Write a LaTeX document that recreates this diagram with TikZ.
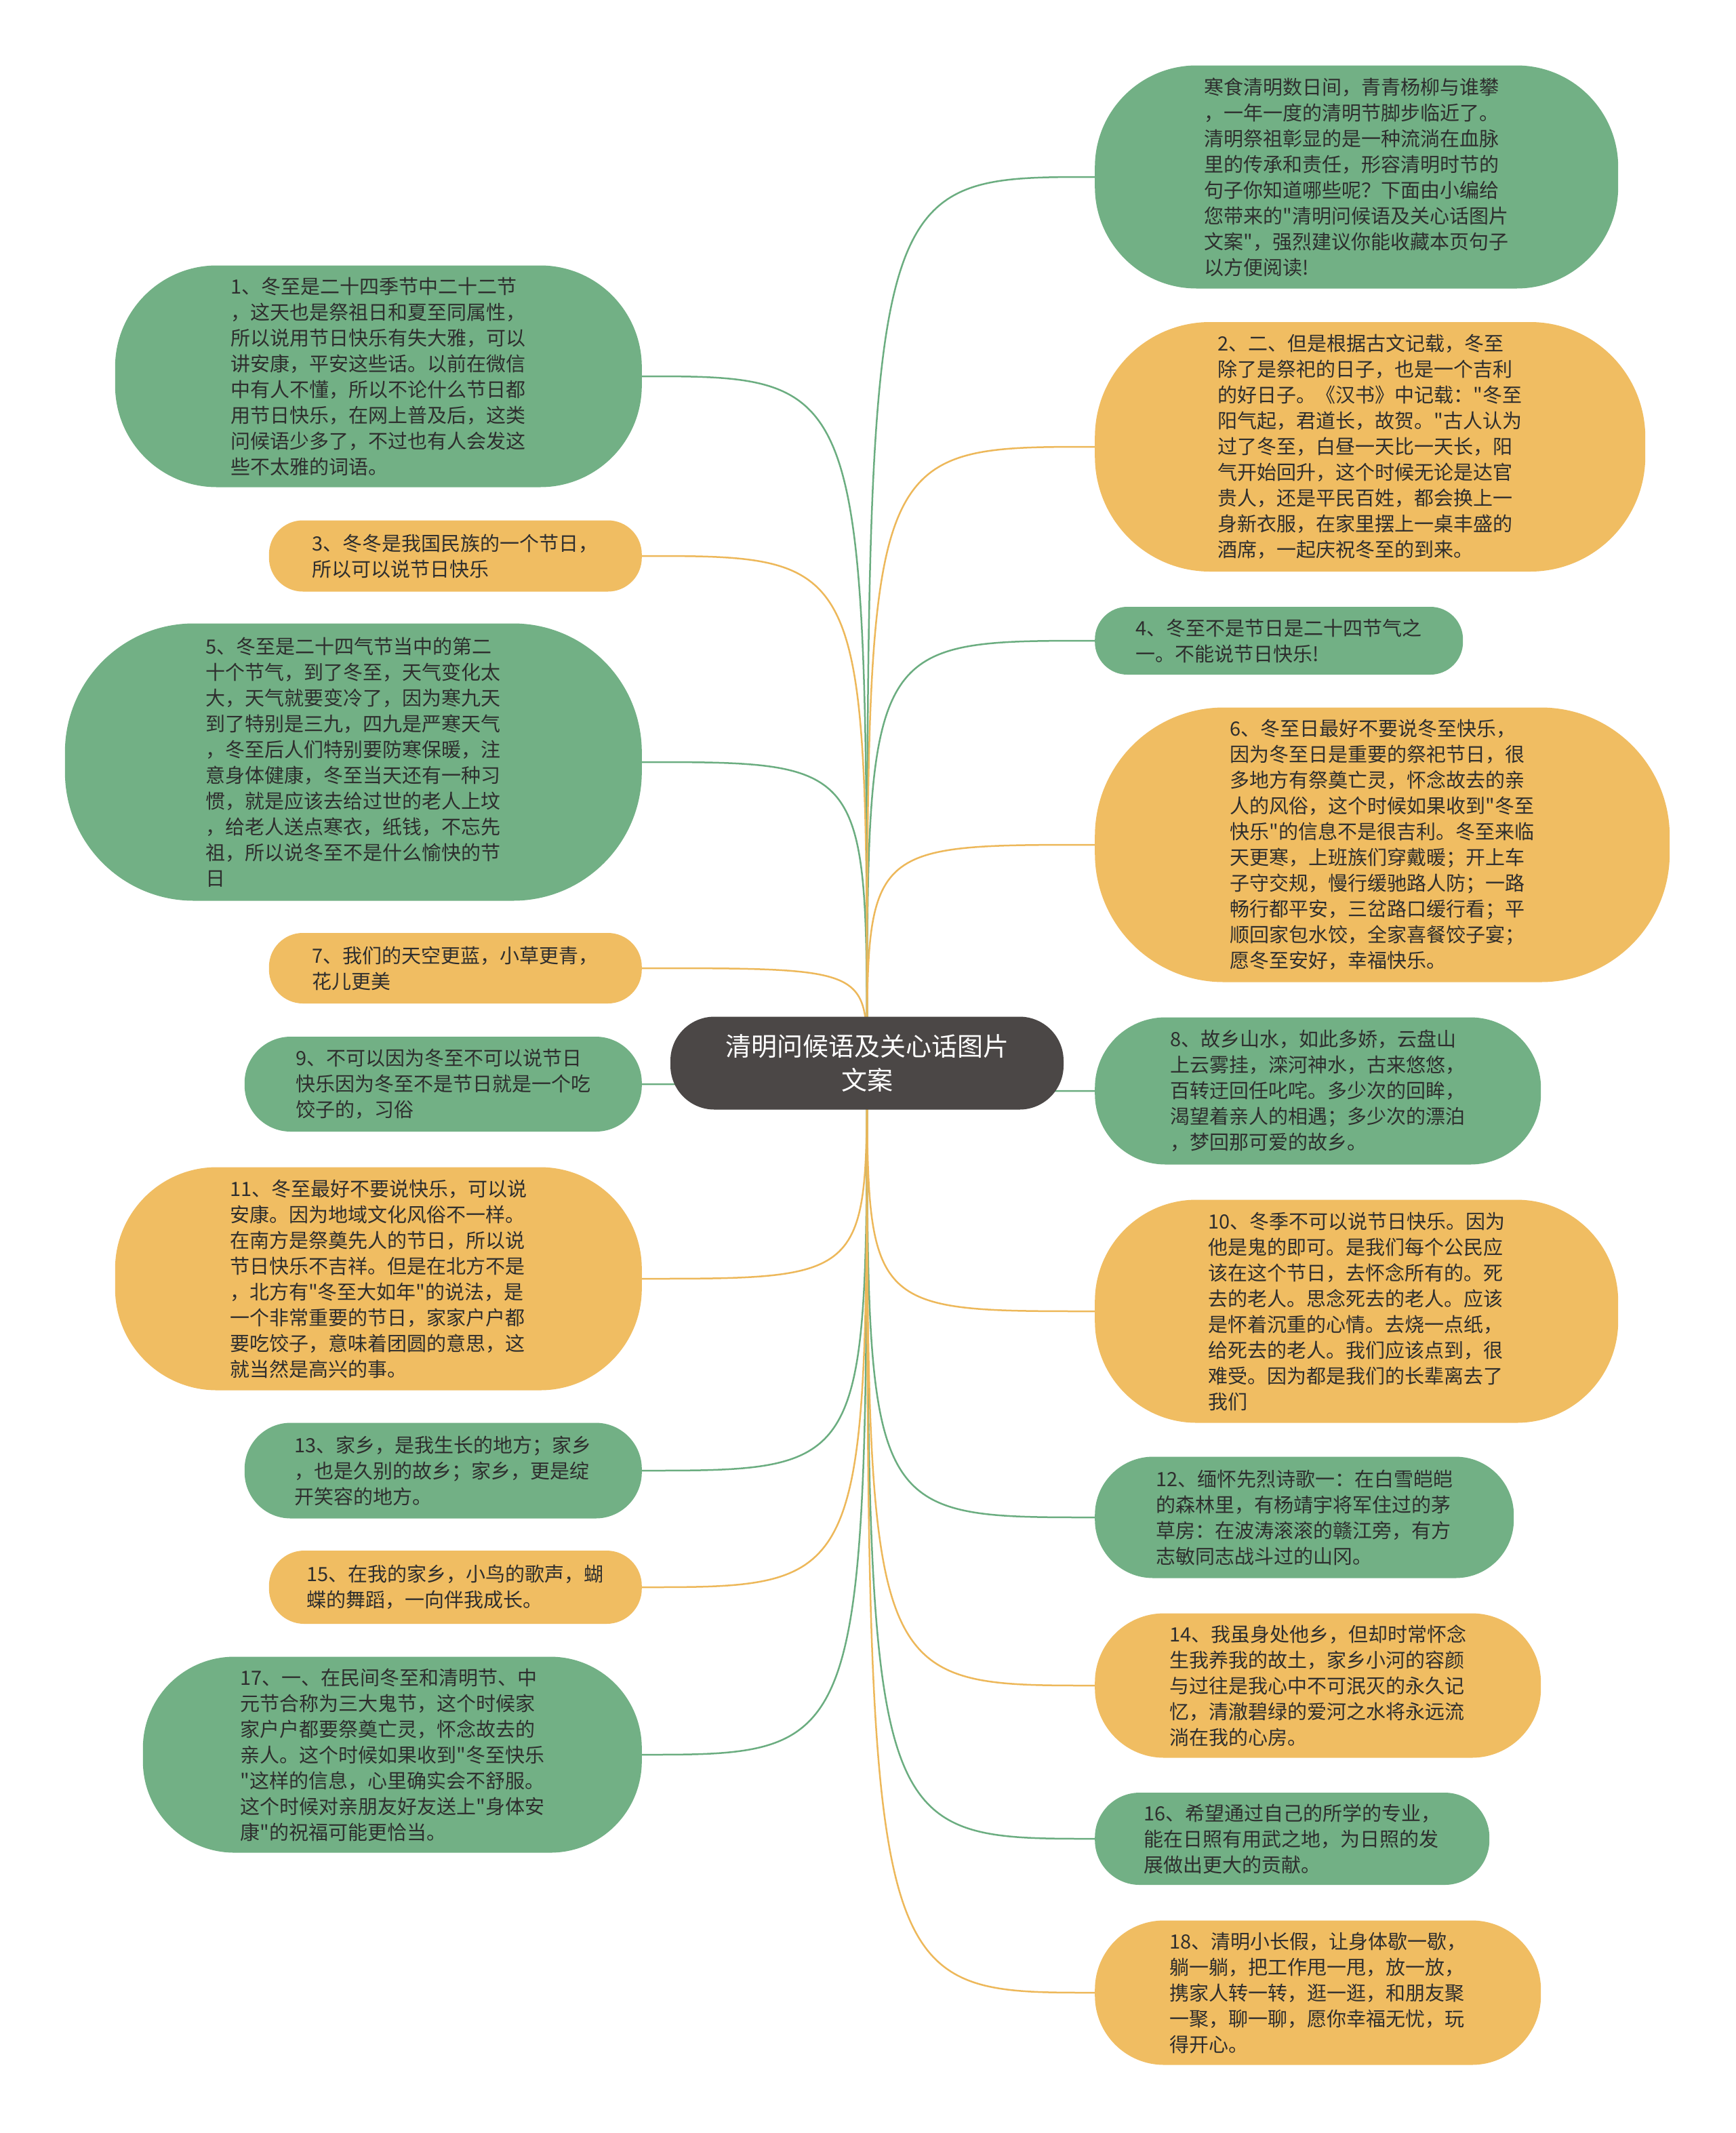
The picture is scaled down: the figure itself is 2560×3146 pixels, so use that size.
\documentclass[tikz,border=0pt]{standalone}
\usepackage{fontspec}
\newfontfamily\cjk{Noto Sans CJK SC}
\usetikzlibrary{backgrounds}
\definecolor{leafgreen}{HTML}{72B085}
\definecolor{leaforange}{HTML}{F0BD62}
\definecolor{rootgray}{HTML}{4B4746}
\definecolor{linegreen}{HTML}{6BAD80}
\definecolor{lineorange}{HTML}{EDB85A}
\definecolor{leaftext}{HTML}{2E2E2E}
\tikzset{
  every node/.append style={font=\cjk},
  leaf/.style={inner sep=0pt, align=left, text=leaftext,
    font=\cjk\fontsize{29pt}{38pt}\selectfont},
  gleaf/.style={leaf, fill=leafgreen},
  oleaf/.style={leaf, fill=leaforange},
  gline/.style={draw=linegreen, line width=2.5pt},
  oline/.style={draw=lineorange, line width=2.5pt}
}

\begin{document}
\begin{tikzpicture}[x=1pt, y=-1pt]
  \useasboundingbox (0,0) rectangle (2560,3146);

  \node [fill=rootgray, text=white, rounded corners=65pt, minimum width=580pt,
    minimum height=137pt, align=center,
    font=\cjk\fontsize{38pt}{50pt}\selectfont] (root) at (1279,1568)
    {清明问候语及关心话图片\\文案};

  % left side
  \node [gleaf, anchor=east, minimum width=777pt, minimum height=327pt, rounded corners=150pt] (n1) at (947,555)
    {1、冬至是二十四季节中二十二节\\，这天也是祭祖日和夏至同属性，\\所以说用节日快乐有失大雅，可以\\讲安康，平安这些话。以前在微信\\中有人不懂，所以不论什么节日都\\用节日快乐，在网上普及后，这类\\问候语少多了，不过也有人会发这\\些不太雅的词语。};
  \node [oleaf, anchor=east, minimum width=550pt, minimum height=105pt, rounded corners=50pt] (n3) at (947,820)
    {3、冬冬是我国民族的一个节日，\\所以可以说节日快乐};
  \node [gleaf, anchor=east, minimum width=851pt, minimum height=409pt, rounded corners=190pt] (n5) at (947,1124)
    {5、冬至是二十四气节当中的第二\\十个节气，到了冬至，天气变化太\\大，天气就要变冷了，因为寒九天\\到了特别是三九，四九是严寒天气\\，冬至后人们特别要防寒保暖，注\\意身体健康，冬至当天还有一种习\\惯，就是应该去给过世的老人上坟\\，给老人送点寒衣，纸钱，不忘先\\祖，所以说冬至不是什么愉快的节\\日};
  \node [oleaf, anchor=east, minimum width=550pt, minimum height=104pt, rounded corners=50pt] (n7) at (947,1428)
    {7、我们的天空更蓝，小草更青，\\花儿更美};
  \node [gleaf, anchor=east, minimum width=586pt, minimum height=140pt, rounded corners=68pt] (n9) at (947,1599)
    {9、不可以因为冬至不可以说节日\\快乐因为冬至不是节日就是一个吃\\饺子的，习俗};
  \node [oleaf, anchor=east, minimum width=777pt, minimum height=329pt, rounded corners=150pt] (n11) at (947,1886)
    {11、冬至最好不要说快乐，可以说\\安康。因为地域文化风俗不一样。\\在南方是祭奠先人的节日，所以说\\节日快乐不吉祥。但是在北方不是\\，北方有"冬至大如年"的说法，是\\一个非常重要的节日，家家户户都\\要吃饺子，意味着团圆的意思，这\\就当然是高兴的事。};
  \node [gleaf, anchor=east, minimum width=586pt, minimum height=141pt, rounded corners=68pt] (n13) at (947,2169)
    {13、家乡，是我生长的地方；家乡\\，也是久别的故乡；家乡，更是绽\\开笑容的地方。};
  \node [oleaf, anchor=east, minimum width=550pt, minimum height=108pt, rounded corners=52pt] (n15) at (947,2341)
    {15、在我的家乡，小鸟的歌声，蝴\\蝶的舞蹈，一向伴我成长。};
  \node [gleaf, anchor=east, minimum width=736pt, minimum height=289pt, rounded corners=135pt] (n17) at (947,2588)
    {17、一、在民间冬至和清明节、中\\元节合称为三大鬼节，这个时候家\\家户户都要祭奠亡灵，怀念故去的\\亲人。这个时候如果收到"冬至快乐\\"这样的信息，心里确实会不舒服。\\这个时候对亲朋友好友送上"身体安\\康"的祝福可能更恰当。};

  % right side
  \node [gleaf, anchor=west, minimum width=772pt, minimum height=329pt, rounded corners=150pt] (n0) at (1615,261)
    {寒食清明数日间，青青杨柳与谁攀\\，一年一度的清明节脚步临近了。\\清明祭祖彰显的是一种流淌在血脉\\里的传承和责任，形容清明时节的\\句子你知道哪些呢？下面由小编给\\您带来的"清明问候语及关心话图片\\文案"，强烈建议你能收藏本页句子\\以方便阅读!};
  \node [oleaf, anchor=west, minimum width=812pt, minimum height=368pt, rounded corners=170pt] (n2) at (1615,659)
    {2、二、但是根据古文记载，冬至\\除了是祭祀的日子，也是一个吉利\\的好日子。《汉书》中记载："冬至\\阳气起，君道长，故贺。"古人认为\\过了冬至，白昼一天比一天长，阳\\气开始回升，这个时候无论是达官\\贵人，还是平民百姓，都会换上一\\身新衣服，在家里摆上一桌丰盛的\\酒席，一起庆祝冬至的到来。};
  \node [gleaf, anchor=west, minimum width=543pt, minimum height=100pt, rounded corners=48pt] (n4) at (1615,945)
    {4、冬至不是节日是二十四节气之\\一。不能说节日快乐!};
  \node [oleaf, anchor=west, minimum width=848pt, minimum height=405pt, rounded corners=190pt] (n6) at (1615,1246)
    {6、冬至日最好不要说冬至快乐，\\因为冬至日是重要的祭祀节日，很\\多地方有祭奠亡灵，怀念故去的亲\\人的风俗，这个时候如果收到"冬至\\快乐"的信息不是很吉利。冬至来临\\天更寒，上班族们穿戴暖；开上车\\子守交规，慢行缓驰路人防；一路\\畅行都平安，三岔路口缓行看；平\\顺回家包水饺，全家喜餐饺子宴；\\愿冬至安好，幸福快乐。};
  \node [gleaf, anchor=west, minimum width=658pt, minimum height=217pt, rounded corners=104pt] (n8) at (1615,1609)
    {8、故乡山水，如此多娇，云盘山\\上云雾挂，滦河神水，古来悠悠，\\百转迂回任叱咤。多少次的回眸，\\渴望着亲人的相遇；多少次的漂泊\\，梦回那可爱的故乡。};
  \node [oleaf, anchor=west, minimum width=772pt, minimum height=329pt, rounded corners=150pt] (n10) at (1615,1934)
    {10、冬季不可以说节日快乐。因为\\他是鬼的即可。是我们每个公民应\\该在这个节日，去怀念所有的。死\\去的老人。思念死去的老人。应该\\是怀着沉重的心情。去烧一点纸，\\给死去的老人。我们应该点到，很\\难受。因为都是我们的长辈离去了\\我们};
  \node [gleaf, anchor=west, minimum width=618pt, minimum height=179pt, rounded corners=86pt] (n12) at (1615,2238)
    {12、缅怀先烈诗歌一：在白雪皑皑\\的森林里，有杨靖宇将军住过的茅\\草房：在波涛滚滚的赣江旁，有方\\志敏同志战斗过的山冈。};
  \node [oleaf, anchor=west, minimum width=658pt, minimum height=213pt, rounded corners=102pt] (n14) at (1615,2486)
    {14、我虽身处他乡，但却时常怀念\\生我养我的故土，家乡小河的容颜\\与过往是我心中不可泯灭的永久记\\忆，清澈碧绿的爱河之水将永远流\\淌在我的心房。};
  \node [gleaf, anchor=west, minimum width=582pt, minimum height=136pt, rounded corners=66pt] (n16) at (1615,2712)
    {16、希望通过自己的所学的专业，\\能在日照有用武之地，为日照的发\\展做出更大的贡献。};
  \node [oleaf, anchor=west, minimum width=658pt, minimum height=213pt, rounded corners=102pt] (n18) at (1615,2939)
    {18、清明小长假，让身体歇一歇，\\躺一躺，把工作甩一甩，放一放，\\携家人转一转，逛一逛，和朋友聚\\一聚，聊一聊，愿你幸福无忧，玩\\得开心。};

  \begin{pgfonlayer}{background}
    \fill [white] (0,0) rectangle (2560,3146);
    \foreach \leaf in {n1,n5,n9,n13,n17}
      \draw [gline] (root.center) .. controls (root.center |- \leaf.east) .. (\leaf.east);
    \foreach \leaf in {n3,n7,n11,n15}
      \draw [oline] (root.center) .. controls (root.center |- \leaf.east) .. (\leaf.east);
    \foreach \leaf in {n0,n4,n8,n12,n16}
      \draw [gline] (root.center) .. controls (root.center |- \leaf.west) .. (\leaf.west);
    \foreach \leaf in {n2,n6,n10,n14,n18}
      \draw [oline] (root.center) .. controls (root.center |- \leaf.west) .. (\leaf.west);
  \end{pgfonlayer}
\end{tikzpicture}
\end{document}
